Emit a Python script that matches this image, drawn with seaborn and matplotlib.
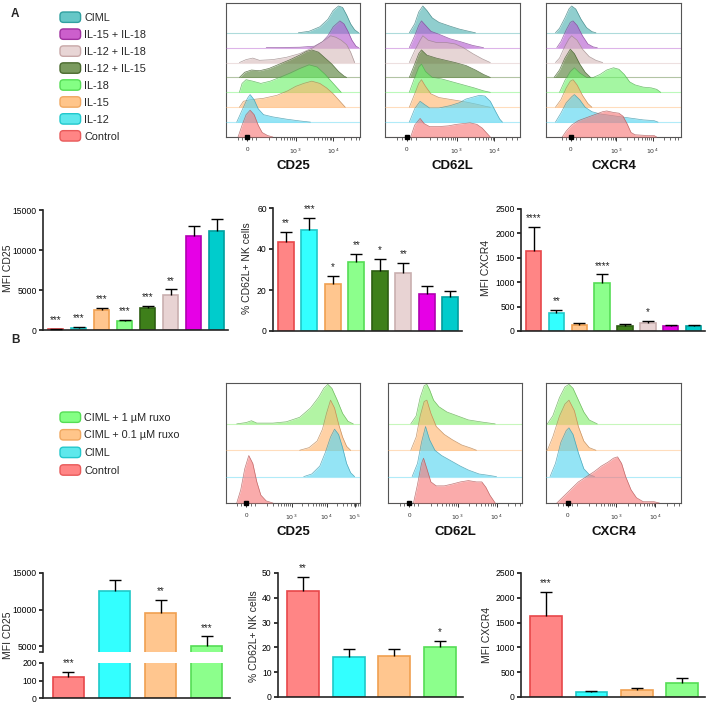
import numpy as np
import pandas as pd
import matplotlib
matplotlib.use("Agg")
import matplotlib.pyplot as plt
from matplotlib.patches import Patch, FancyBboxPatch
from matplotlib.legend_handler import HandlerPatch
from matplotlib.colors import to_rgb
import seaborn as sns

# ============================================================
# DATA
# ============================================================

# --- panel A, bar charts (order left -> right) ---
groups_a = ["Control", "IL-12", "IL-15", "IL-18", "IL-12 + IL-15",
            "IL-12 + IL-18", "IL-15 + IL-18", "CIML"]
cd25_a = [100, 300, 2450, 1100, 2700, 4400, 11700, 12400]
cd25_a_err = [60, 100, 300, 200, 300, 700, 1300, 1500]
cd25_a_sig = ["***", "***", "***", "***", "***", "**", "", ""]
cd62l_a = [43.4, 49.3, 22.9, 33.7, 29.3, 28.3, 18.0, 16.6]
cd62l_a_err = [5, 6, 4, 4, 6, 5, 4, 3]
cd62l_a_sig = ["**", "***", "*", "**", "*", "**", "", ""]
cxcr4_a = [1640, 370, 130, 975, 110, 170, 110, 100]
cxcr4_a_err = [500, 60, 30, 190, 30, 40, 20, 30]
cxcr4_a_sig = ["****", "**", "", "****", "", "*", "", ""]

# --- panel B, bar charts ---
groups_b = ["Control", "CIML", "CIML + 0.1 µM ruxo", "CIML + 1 µM ruxo"]
cd25_b = [122, 12500, 9500, 5000]
cd25_b_err = [28, 1500, 1800, 1350]
cd25_b_sig = ["***", "", "**", "***"]
cd62l_b = [42.7, 16.1, 16.5, 20.2]
cd62l_b_err = [5.7, 3.2, 2.9, 2.4]
cd62l_b_sig = ["**", "", "", "*"]
cxcr4_b = [1630, 100, 140, 280]
cxcr4_b_err = [490, 30, 40, 100]
cxcr4_b_sig = ["***", "", "", ""]

# --- histogram rows (top -> bottom) ---
rows_a = ["CIML", "IL-15 + IL-18", "IL-12 + IL-18", "IL-12 + IL-15",
          "IL-18", "IL-15", "IL-12", "Control"]
rows_b = ["CIML + 1 µM ruxo", "CIML + 0.1 µM ruxo", "CIML", "Control"]

# histogram outlines: (position across the plot 0-1, height in row units)
hist_a_cd25 = {
    "CIML": [(0.54, 0), (0.62, 0.1), (0.70, 0.4), (0.76, 0.9), (0.80, 1.5), (0.84, 1.8), (0.87, 1.7),
             (0.90, 1.2), (0.93, 0.6), (0.96, 0.2), (0.99, 0)],
    "IL-15 + IL-18": [(0.30, 0), (0.55, 0.03), (0.66, 0.1), (0.72, 0.4), (0.76, 0.8), (0.80, 1.4), (0.85, 1.8),
                      (0.88, 1.6), (0.91, 1.1), (0.94, 0.5), (0.97, 0.1), (0.99, 0)],
    "IL-12 + IL-18": [(0.10, 0), (0.15, 0.2), (0.20, 0.3), (0.25, 0.15), (0.35, 0.2), (0.45, 0.35), (0.55, 0.6),
                      (0.65, 1.0), (0.72, 1.4), (0.78, 1.8), (0.82, 1.7), (0.86, 1.5), (0.90, 1.2), (0.93, 0.7),
                      (0.96, 0)],
    "IL-12 + IL-15": [(0.10, 0), (0.14, 0.35), (0.19, 0.5), (0.25, 0.45), (0.32, 0.6), (0.40, 0.9), (0.48, 1.2),
                      (0.55, 1.5), (0.60, 1.75), (0.64, 1.85), (0.69, 1.7), (0.74, 1.3), (0.79, 0.9), (0.84, 0.4),
                      (0.88, 0.1), (0.90, 0)],
    "IL-18": [(0.10, 0), (0.12, 0.6), (0.15, 0.85), (0.20, 0.75), (0.26, 0.6), (0.33, 0.75), (0.40, 1.0),
              (0.48, 1.3), (0.55, 1.6), (0.62, 1.85), (0.68, 1.7), (0.74, 1.2), (0.79, 0.7), (0.83, 0.3), (0.86, 0)],
    "IL-15": [(0.10, 0), (0.13, 0.4), (0.18, 0.5), (0.28, 0.6), (0.38, 0.8), (0.46, 1.1), (0.52, 1.4),
              (0.58, 1.6), (0.64, 1.75), (0.70, 1.6), (0.75, 1.3), (0.80, 0.9), (0.85, 0.4), (0.89, 0)],
    "IL-12": [(0.08, 0), (0.12, 0.8), (0.16, 1.6), (0.18, 1.85), (0.21, 1.5), (0.24, 0.9), (0.28, 0.5),
              (0.35, 0.35), (0.45, 0.2), (0.55, 0.08), (0.63, 0)],
    "Control": [(0.09, 0), (0.12, 0.8), (0.15, 1.5), (0.18, 1.8), (0.21, 1.5), (0.24, 0.8), (0.27, 0.3),
                (0.31, 0.1), (0.35, 0)],
}
hist_a_cd62l = {
    "CIML": [(0.18, 0), (0.22, 0.6), (0.25, 1.4), (0.28, 1.8), (0.31, 1.5), (0.35, 1.0), (0.40, 0.7),
             (0.48, 0.45), (0.55, 0.25), (0.62, 0.1), (0.67, 0)],
    "IL-15 + IL-18": [(0.18, 0), (0.22, 0.8), (0.25, 1.5), (0.27, 1.8), (0.30, 1.5), (0.34, 1.1), (0.40, 0.9),
                      (0.48, 0.6), (0.56, 0.4), (0.65, 0.15), (0.73, 0)],
    "IL-12 + IL-18": [(0.18, 0), (0.22, 0.8), (0.26, 1.5), (0.28, 1.8), (0.32, 1.5), (0.38, 1.35), (0.45, 1.35),
                      (0.52, 1.25), (0.58, 1.0), (0.65, 0.6), (0.72, 0.25), (0.78, 0)],
    "IL-12 + IL-15": [(0.18, 0), (0.22, 0.9), (0.25, 1.6), (0.27, 1.85), (0.31, 1.5), (0.38, 1.3), (0.45, 1.15),
                      (0.52, 1.0), (0.60, 0.8), (0.67, 0.5), (0.73, 0.2), (0.78, 0)],
    "IL-18": [(0.18, 0), (0.22, 1.0), (0.25, 1.7), (0.27, 1.9), (0.30, 1.4), (0.35, 1.0), (0.42, 0.9),
              (0.50, 0.7), (0.58, 0.5), (0.66, 0.3), (0.73, 0.1), (0.78, 0)],
    "IL-15": [(0.18, 0), (0.22, 0.9), (0.25, 1.6), (0.27, 1.85), (0.30, 1.4), (0.34, 0.9), (0.40, 0.65),
              (0.50, 0.5), (0.60, 0.35), (0.68, 0.2), (0.75, 0.05), (0.78, 0)],
    "IL-12": [(0.18, 0), (0.22, 0.9), (0.26, 1.4), (0.29, 1.2), (0.33, 0.95), (0.40, 0.95), (0.48, 1.1),
              (0.55, 1.3), (0.60, 1.55), (0.66, 1.7), (0.70, 1.8), (0.74, 1.75), (0.78, 1.4), (0.82, 0.7),
              (0.85, 0.2), (0.87, 0)],
    "Control": [(0.19, 0), (0.22, 0.8), (0.26, 1.25), (0.29, 0.9), (0.33, 0.7), (0.40, 0.7), (0.47, 0.75),
                (0.53, 0.85), (0.58, 0.9), (0.63, 0.95), (0.68, 0.85), (0.72, 0.6), (0.75, 0.3), (0.78, 0)],
}
hist_a_cxcr4 = {
    "CIML": [(0.07, 0), (0.10, 0.3), (0.14, 1.0), (0.17, 1.6), (0.19, 1.8), (0.22, 1.6), (0.26, 0.9),
             (0.30, 0.35), (0.34, 0.08), (0.37, 0)],
    "IL-15 + IL-18": [(0.08, 0), (0.11, 0.4), (0.15, 1.2), (0.18, 1.7), (0.20, 1.8), (0.23, 1.5), (0.27, 0.8),
                      (0.31, 0.25), (0.35, 0.05), (0.38, 0)],
    "IL-12 + IL-18": [(0.07, 0), (0.10, 0.3), (0.14, 1.1), (0.17, 1.6), (0.19, 1.8), (0.23, 1.5), (0.27, 0.9),
                      (0.32, 0.4), (0.37, 0.15), (0.42, 0)],
    "IL-12 + IL-15": [(0.06, 0), (0.10, 0.5), (0.14, 1.3), (0.18, 1.9), (0.21, 1.6), (0.25, 0.9), (0.29, 0.35),
                      (0.33, 0)],
    "IL-18": [(0.10, 0), (0.14, 0.8), (0.18, 1.4), (0.21, 1.65), (0.25, 1.3), (0.30, 1.0), (0.35, 1.0),
              (0.40, 1.2), (0.45, 1.5), (0.50, 1.65), (0.54, 1.55), (0.58, 1.2), (0.62, 0.7), (0.66, 0.5),
              (0.72, 0.35), (0.78, 0.3), (0.82, 0.2), (0.85, 0)],
    "IL-15": [(0.07, 0), (0.11, 0.5), (0.15, 1.3), (0.18, 1.75), (0.20, 1.85), (0.23, 1.5), (0.27, 0.8),
              (0.31, 0.25), (0.34, 0)],
    "IL-12": [(0.07, 0), (0.11, 0.6), (0.15, 1.3), (0.19, 1.7), (0.21, 1.85), (0.25, 1.5), (0.29, 1.0),
              (0.34, 0.7), (0.40, 0.55), (0.48, 0.45), (0.56, 0.35), (0.64, 0.25), (0.72, 0.15), (0.80, 0.1),
              (0.83, 0)],
    "Control": [(0.12, 0), (0.15, 0.4), (0.19, 0.8), (0.24, 1.1), (0.30, 1.3), (0.36, 1.5), (0.42, 1.7),
                (0.45, 1.75), (0.50, 1.65), (0.54, 1.6), (0.57, 1.4), (0.60, 0.9), (0.63, 0.3), (0.66, 0.15),
                (0.75, 0.1), (0.80, 0.1), (0.82, 0)],
}
hist_b_cd25 = {
    "CIML + 1 µM ruxo": [(0.08, 0), (0.15, 0.05), (0.19, 0.12), (0.23, 0.03), (0.35, 0.03), (0.45, 0.08),
                         (0.55, 0.25), (0.63, 0.6), (0.69, 1.0), (0.73, 1.35), (0.76, 1.5), (0.79, 1.35),
                         (0.83, 0.9), (0.87, 0.4), (0.91, 0.1), (0.95, 0)],
    "CIML + 0.1 µM ruxo": [(0.55, 0), (0.62, 0.1), (0.68, 0.35), (0.72, 0.8), (0.75, 1.4), (0.78, 1.9),
                           (0.81, 1.6), (0.84, 1.0), (0.87, 0.5), (0.90, 0.15), (0.93, 0)],
    "CIML": [(0.58, 0), (0.64, 0.1), (0.70, 0.4), (0.74, 0.9), (0.78, 1.5), (0.81, 1.8), (0.84, 1.6),
             (0.87, 1.1), (0.90, 0.5), (0.93, 0.15), (0.96, 0)],
    "Control": [(0.08, 0), (0.11, 0.5), (0.14, 1.3), (0.17, 1.8), (0.20, 1.5), (0.23, 0.8), (0.26, 0.3),
                (0.30, 0.08), (0.35, 0)],
}
hist_b_cd62l = {
    "CIML + 1 µM ruxo": [(0.17, 0), (0.21, 0.3), (0.24, 1.0), (0.27, 1.45), (0.29, 1.5), (0.31, 1.3),
                         (0.34, 0.9), (0.38, 0.65), (0.44, 0.45), (0.52, 0.3), (0.60, 0.15), (0.70, 0.07),
                         (0.80, 0)],
    "CIML + 0.1 µM ruxo": [(0.17, 0), (0.21, 0.5), (0.24, 1.3), (0.27, 1.85), (0.29, 1.9), (0.32, 1.4),
                           (0.36, 0.9), (0.42, 0.6), (0.48, 0.4), (0.55, 0.2), (0.62, 0.08), (0.66, 0)],
    "CIML": [(0.18, 0), (0.22, 0.5), (0.25, 1.3), (0.28, 1.9), (0.31, 1.4), (0.35, 1.0), (0.40, 0.8),
             (0.47, 0.6), (0.54, 0.4), (0.60, 0.25), (0.68, 0.1), (0.75, 0.05), (0.81, 0)],
    "Control": [(0.19, 0), (0.22, 0.7), (0.25, 1.5), (0.265, 1.7), (0.29, 1.3), (0.32, 0.8), (0.36, 0.65),
                (0.42, 0.65), (0.48, 0.72), (0.54, 0.8), (0.60, 0.85), (0.66, 0.8), (0.70, 0.8), (0.73, 0.6),
                (0.76, 0.3), (0.80, 0)],
}
hist_b_cxcr4 = {
    "CIML + 1 µM ruxo": [(0.01, 0), (0.05, 0.3), (0.10, 1.0), (0.14, 1.4), (0.17, 1.5), (0.20, 1.35),
                         (0.24, 0.9), (0.28, 0.45), (0.32, 0.15), (0.38, 0)],
    "CIML + 0.1 µM ruxo": [(0.01, 0), (0.05, 0.5), (0.10, 1.3), (0.14, 1.75), (0.17, 1.9), (0.21, 1.5),
                           (0.24, 0.9), (0.28, 0.35), (0.32, 0.1), (0.37, 0)],
    "CIML": [(0.03, 0), (0.07, 0.5), (0.11, 1.3), (0.15, 1.75), (0.17, 1.85), (0.20, 1.6), (0.24, 0.9),
             (0.28, 0.3), (0.32, 0.08), (0.36, 0)],
    "Control": [(0.08, 0), (0.12, 0.2), (0.18, 0.5), (0.24, 0.8), (0.30, 1.0), (0.36, 1.2), (0.41, 1.4),
                (0.46, 1.55), (0.50, 1.7), (0.53, 1.75), (0.56, 1.5), (0.59, 1.0), (0.63, 0.5), (0.67, 0.2),
                (0.72, 0.05), (0.80, 0.05), (0.84, 0)],
}

# ============================================================
# COLOURS
# ============================================================

hist_col_a = {
    "Control": "#F77878", "IL-12": "#52D4F0", "IL-15": "#FFB56E", "IL-18": "#6CF26A",
    "IL-12 + IL-15": "#557E36", "IL-12 + IL-18": "#D8BCBC", "IL-15 + IL-18": "#B45AD0", "CIML": "#4CB0B0",
}
hist_col_b = {
    "Control": "#F77878", "CIML": "#52D4F0", "CIML + 0.1 µM ruxo": "#FFB56E", "CIML + 1 µM ruxo": "#84EE6C",
}
legend_col = {
    "Control": ("#FF8585", "#E85A5A"), "IL-12": ("#5EE8EC", "#22C8CC"), "IL-15": ("#FFC58A", "#F0A860"),
    "IL-18": ("#84FF84", "#55DD55"), "IL-12 + IL-15": ("#7A9A5E", "#4A6A2E"),
    "IL-12 + IL-18": ("#E8D5D5", "#C8A8A8"), "IL-15 + IL-18": ("#CC5FCC", "#A030A0"),
    "CIML": ("#66C7C7", "#2FA0A0"),
    "CIML + 0.1 µM ruxo": ("#FFC58A", "#F0A860"), "CIML + 1 µM ruxo": ("#84FF84", "#55DD55"),
}
legend_col_b = dict(legend_col, CIML=("#5EE8EC", "#22C8CC"))

bar_fill = {
    "Control": "#FF8585", "IL-12": "#33FFFF", "IL-15": "#FFC68F", "IL-18": "#8CFF8C",
    "IL-12 + IL-15": "#3E7F1A", "IL-12 + IL-18": "#E8D3D3", "IL-15 + IL-18": "#E600E6", "CIML": "#00CCCC",
    "CIML + 0.1 µM ruxo": "#FFC68F", "CIML + 1 µM ruxo": "#8CFF8C",
}
bar_edge = {
    "Control": "#E8474A", "IL-12": "#1FC8C8", "IL-15": "#F0A050", "IL-18": "#55DD55",
    "IL-12 + IL-15": "#2D5E12", "IL-12 + IL-18": "#C9AFAF", "IL-15 + IL-18": "#B000B0", "CIML": "#009E9E",
    "CIML + 0.1 µM ruxo": "#F0A050", "CIML + 1 µM ruxo": "#55DD55",
}
bar_fill_b = dict(bar_fill, CIML="#33FFFF")
bar_edge_b = dict(bar_edge, CIML="#1FC8C8")

# ============================================================
# HELPERS
# ============================================================

W, H = 708, 702
sns.set_theme(style="ticks")
plt.rcParams["font.family"] = ["Liberation Sans", "DejaVu Sans"]
plt.rcParams["axes.linewidth"] = 1.2

fig = plt.figure(figsize=(W / 100, H / 100), dpi=100)


def px_axes(x0, y0, x1, y1):
    return fig.add_axes([x0 / W, 1 - y1 / H, (x1 - x0) / W, (y1 - y0) / H])


def fig_text(x, y, s, **kw):
    fig.text(x / W, 1 - y / H, s, **kw)


class RoundedPatchHandler(HandlerPatch):
    # legend swatches with rounded corners
    def create_artists(self, legend, orig_handle, xdescent, ydescent, width, height, fontsize, trans):
        p = FancyBboxPatch((-xdescent, -ydescent), width, height,
                           boxstyle="round,pad=0,rounding_size=2.5",
                           facecolor=orig_handle.get_facecolor(), edgecolor=orig_handle.get_edgecolor(),
                           lw=1.0, transform=trans)
        return [p]


def draw_hist(ax, rows, curves, colors, top, ticks, labels, zero, e3, dec, xlabel):
    n = len(rows)
    for i, name in enumerate(rows):
        base = n - 1 - i
        xs = [p[0] for p in curves[name]]
        ys = [base + p[1] for p in curves[name]]
        c = colors[name]
        dark = tuple(v * 0.72 for v in to_rgb(c))
        ax.axhline(base, color=c, lw=0.8, alpha=0.45, zorder=3 * i)
        ax.fill_between(xs, base, ys, color=c, alpha=0.62, lw=0, zorder=3 * i + 1)
        ax.plot(xs, ys, color=dark, lw=0.5, alpha=0.8, zorder=3 * i + 2)
    ax.set_xlim(0, 1)
    ax.set_ylim(0, top)
    ax.set_yticks([])
    ax.set_xticks(ticks)
    ax.set_xticklabels(labels)
    minor = [zero - 0.07, zero - 0.035, zero + 0.035, zero + 0.07]
    for d in range(-1, 3):
        for k in range(2, 10):
            p = e3 + (d + np.log10(k)) * dec
            if zero + 0.1 < p < 1:
                minor.append(p)
    ax.set_xticks(minor, minor=True)
    for s in ax.spines.values():
        s.set_color("#555555")
        s.set_linewidth(0.8)
    ax.tick_params(axis="x", which="major", length=3, width=0.7, labelsize=4.5, pad=4, colors="#333333")
    ax.tick_params(axis="x", which="minor", length=1.8, width=0.5, colors="#333333")
    # small solid mark at the zero position of the biexponential axis
    ax.plot([zero], [0], marker="s", ms=2.2, color="black", clip_on=False, zorder=50)
    ax.set_xlabel(xlabel, fontsize=9.5, fontweight="bold", labelpad=3, color="#111111")


def bar_panel(ax, cats, vals, errs, sig, fills, edges, ylim, yticks, width=0.68, stars=True):
    df = pd.DataFrame({"group": cats, "value": vals})
    sns.barplot(data=df, x="group", y="value", hue="group", order=cats, hue_order=cats,
                palette=fills, legend=False, ax=ax, width=width, saturation=1, linewidth=1.2)
    for cont, name in zip(ax.containers, cats):
        for bar in cont:
            bar.set_edgecolor(edges[name])
    n = len(cats)
    eb = ax.errorbar(range(n), vals, yerr=[np.zeros(n), errs], fmt="none", ecolor="black",
                     elinewidth=1.0, capsize=4, capthick=1.0, zorder=4)
    eb[1][0].set_visible(False)
    ax.set_xlim(-0.55, n - 0.5)
    ax.set_ylim(*ylim)
    ax.set_yticks(yticks)
    ax.set_xticks([])
    ax.set_xlabel("")
    ax.set_ylabel("")
    sns.despine(ax=ax)
    ax.tick_params(axis="y", length=3, width=1.1, labelsize=6.2, pad=1.5, colors="black")
    if stars:
        for i, s in enumerate(sig):
            top = vals[i] + errs[i]
            if s and ylim[0] <= top <= ylim[1]:
                ax.annotate(s, xy=(i, top), xytext=(0, 2.5), textcoords="offset points",
                            ha="center", va="bottom", fontsize=7, color="#222222")


legend_kw = dict(loc="upper left", frameon=False, fontsize=7.8, handlelength=1.9, handleheight=1.1,
                 handletextpad=0.35, borderpad=0, borderaxespad=0,
                 handler_map={Patch: RoundedPatchHandler()})

# ============================================================
# PANEL A
# ============================================================

fig_text(15, 14, "A", fontsize=8.5, fontweight="bold", ha="center", va="center")
fig.legend(handles=[Patch(facecolor=legend_col[g][0], edgecolor=legend_col[g][1], lw=1.0) for g in rows_a],
           labels=rows_a, bbox_to_anchor=(60 / W, 1 - 12 / H), labelspacing=0.56, **legend_kw)

ax = px_axes(226, 3, 360, 137)
draw_hist(ax, rows_a, hist_a_cd25, hist_col_a, 9.0, [0.157, 0.52, 0.80], ["0", "$10^3$", "$10^4$"],
          0.157, 0.52, 0.28, "CD25")
ax = px_axes(385, 3, 520, 137)
draw_hist(ax, rows_a, hist_a_cd62l, hist_col_a, 9.0, [0.16, 0.53, 0.81], ["0", "$10^3$", "$10^4$"],
          0.16, 0.53, 0.28, "CD62L")
ax = px_axes(546, 3, 681, 137)
draw_hist(ax, rows_a, hist_a_cxcr4, hist_col_a, 9.0, [0.185, 0.52, 0.79], ["0", "$10^3$", "$10^4$"],
          0.185, 0.52, 0.27, "CXCR4")

ax = px_axes(43, 210, 228, 330)
bar_panel(ax, groups_a, cd25_a, cd25_a_err, cd25_a_sig, bar_fill, bar_edge, (0, 15000),
          [0, 5000, 10000, 15000])
fig_text(8, 268, "MFI CD25", rotation=90, fontsize=7.5, ha="center", va="center")

ax = px_axes(273, 208, 462, 331)
bar_panel(ax, groups_a, cd62l_a, cd62l_a_err, cd62l_a_sig, bar_fill, bar_edge, (0, 60), [0, 20, 40, 60])
fig_text(247, 268, "% CD62L+ NK cells", rotation=90, fontsize=7.5, ha="center", va="center")

ax = px_axes(521, 209, 705, 331)
bar_panel(ax, groups_a, cxcr4_a, cxcr4_a_err, cxcr4_a_sig, bar_fill, bar_edge, (0, 2500),
          [0, 500, 1000, 1500, 2000, 2500])
fig_text(486, 268, "MFI CXCR4", rotation=90, fontsize=7.5, ha="center", va="center")

# ============================================================
# PANEL B
# ============================================================

fig_text(15, 340, "B", fontsize=8.5, fontweight="bold", ha="center", va="center")
fig.legend(handles=[Patch(facecolor=legend_col_b[g][0], edgecolor=legend_col_b[g][1], lw=1.0) for g in rows_b],
           labels=rows_b, bbox_to_anchor=(60 / W, 1 - 412 / H), labelspacing=0.62, **legend_kw)

ax = px_axes(226, 383, 360, 503)
draw_hist(ax, rows_b, hist_b_cd25, hist_col_b, 4.55, [0.15, 0.49, 0.75, 0.96],
          ["0", "$10^3$", "$10^4$", "$10^5$"], 0.15, 0.49, 0.26, "CD25")
ax = px_axes(388, 383, 522, 503)
draw_hist(ax, rows_b, hist_b_cd62l, hist_col_b, 4.55, [0.157, 0.52, 0.81], ["0", "$10^3$", "$10^4$"],
          0.157, 0.52, 0.29, "CD62L")
ax = px_axes(546, 383, 681, 503)
draw_hist(ax, rows_b, hist_b_cxcr4, hist_col_b, 4.55, [0.16, 0.52, 0.81], ["0", "$10^3$", "$10^4$"],
          0.16, 0.52, 0.29, "CXCR4")

# broken axis MFI CD25
ax_hi = px_axes(43, 573, 230, 652)
bar_panel(ax_hi, groups_b, cd25_b, cd25_b_err, cd25_b_sig, bar_fill_b, bar_edge_b, (4180, 15000),
          [5000, 10000, 15000], width=0.67)
ax_hi.spines["bottom"].set_visible(False)
ax_hi.set_yticks([4180], minor=True)
ax_hi.tick_params(axis="y", which="minor", length=3, width=1.1)
ax_lo = px_axes(43, 663, 230, 698)
bar_panel(ax_lo, groups_b, cd25_b, cd25_b_err, cd25_b_sig, bar_fill_b, bar_edge_b, (0, 200),
          [0, 100, 200], width=0.67)
fig_text(8, 635, "MFI CD25", rotation=90, fontsize=7.5, ha="center", va="center")

ax = px_axes(278, 573, 463, 697)
bar_panel(ax, groups_b, cd62l_b, cd62l_b_err, cd62l_b_sig, bar_fill_b, bar_edge_b, (0, 50),
          [0, 10, 20, 30, 40, 50], width=0.7)
fig_text(254, 636, "% CD62L+ NK cells", rotation=90, fontsize=7.5, ha="center", va="center")

ax = px_axes(521, 573, 705, 697)
bar_panel(ax, groups_b, cxcr4_b, cxcr4_b_err, cxcr4_b_sig, bar_fill_b, bar_edge_b, (0, 2500),
          [0, 500, 1000, 1500, 2000, 2500], width=0.7)
fig_text(487, 635, "MFI CXCR4", rotation=90, fontsize=7.5, ha="center", va="center")

fig.savefig("out.png", dpi=100)
